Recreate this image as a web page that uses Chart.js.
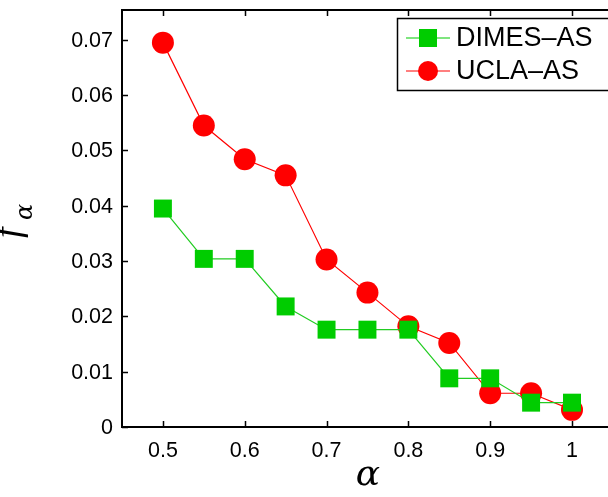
<!DOCTYPE html>
<html>
<head>
<meta charset="utf-8">
<script src="https://cdn.jsdelivr.net/npm/chart.js@4/dist/chart.umd.min.js"></script>
<style>
  html, body { margin: 0; padding: 0; background: #fff; overflow: hidden; }
  #wrap { width: 608px; height: 497px; position: relative; }
  canvas { display: block; }
</style>
</head>
<body>
<div id="wrap"><canvas id="c"></canvas></div>
<script>
const alphas = [0.5, 0.55, 0.6, 0.65, 0.7, 0.75, 0.8, 0.85, 0.9, 0.95, 1];
const dimesAS = [0.0395, 0.0304, 0.0304, 0.0218, 0.0176, 0.0176, 0.0176, 0.0088, 0.0088, 0.0044, 0.0044];
const uclaAS = [0.0695, 0.0545, 0.0484, 0.0455, 0.0303, 0.0243, 0.0182, 0.0152, 0.0061, 0.0061, 0.0031];
const xTicks = [0.5, 0.6, 0.7, 0.8, 0.9, 1];
const yTicks = [0, 0.01, 0.02, 0.03, 0.04, 0.05, 0.06, 0.07];
const tickFont = '21.5px "Liberation Sans", Arial, sans-serif';

// inward tick marks, tick labels, frame, axis titles and boxed legend
const framePlugin = {
    id: 'frame',
    afterDraw(chart) {
        const ctx = chart.ctx;
        const a = chart.chartArea;
        const xs = chart.scales.x, ys = chart.scales.y;
        ctx.save();
        ctx.strokeStyle = '#000';
        ctx.lineWidth = 2;
        ctx.beginPath();
        ctx.moveTo(a.right, a.top);
        ctx.lineTo(a.left, a.top);
        ctx.lineTo(a.left, a.bottom);
        ctx.lineTo(a.right, a.bottom);
        ctx.stroke();
        ctx.lineWidth = 1.5;
        ctx.beginPath();
        xTicks.forEach(v => {
            const px = Math.round(xs.getPixelForValue(v)) + 0.5;
            ctx.moveTo(px, a.bottom); ctx.lineTo(px, a.bottom - 6);
            ctx.moveTo(px, a.top); ctx.lineTo(px, a.top + 6);
        });
        yTicks.forEach(v => {
            const py = Math.round(ys.getPixelForValue(v)) + 0.5;
            ctx.moveTo(a.left, py); ctx.lineTo(a.left + 6, py);
        });
        ctx.stroke();

        // tick labels
        ctx.fillStyle = '#000';
        ctx.font = tickFont;
        ctx.textBaseline = 'middle';
        ctx.textAlign = 'center';
        xTicks.forEach(v => ctx.fillText(String(v), xs.getPixelForValue(v), a.bottom + 24));
        ctx.textAlign = 'right';
        yTicks.forEach(v => ctx.fillText(String(v), a.left - 9, ys.getPixelForValue(v) + 1));

        // axis titles
        ctx.font = 'italic 36px "DejaVu Serif", "Liberation Serif", serif';
        ctx.textAlign = 'center';
        ctx.textBaseline = 'alphabetic';
        ctx.fillText('α', 368, 485);

        ctx.translate(20, 228);
        ctx.rotate(-Math.PI / 2);
        ctx.font = 'italic 38px "Liberation Serif", "DejaVu Serif", serif';
        ctx.textAlign = 'left';
        ctx.fillText('f', -10, 0);
        ctx.font = 'italic 24px "DejaVu Serif", "Liberation Serif", serif';
        ctx.fillText('α', 8, 12);
        ctx.setTransform(1, 0, 0, 1, 0, 0);

        // legend
        const lx = 397, ly = 18, lw = 212, lh = 72;
        ctx.fillStyle = '#fff';
        ctx.fillRect(lx, ly, lw, lh);
        ctx.strokeStyle = '#000';
        ctx.lineWidth = 1.5;
        ctx.strokeRect(lx + 0.5, ly + 0.5, lw, lh);
        const rows = [
            { label: 'DIMES\u2013AS', color: '#00cc00', shape: 'sq', y: 38 },
            { label: 'UCLA\u2013AS', color: '#ff0000', shape: 'ci', y: 71 }
        ];
        rows.forEach(r => {
            ctx.strokeStyle = r.color;
            ctx.lineWidth = 1.2;
            ctx.beginPath();
            ctx.moveTo(406, r.y); ctx.lineTo(450, r.y);
            ctx.stroke();
            ctx.fillStyle = r.color;
            if (r.shape === 'sq') {
                ctx.fillRect(419, r.y - 9, 18, 18);
            } else {
                ctx.beginPath();
                ctx.arc(428, r.y, 10, 0, Math.PI * 2);
                ctx.fill();
            }
            ctx.fillStyle = '#000';
            ctx.font = '27px "Liberation Sans", Arial, sans-serif';
            ctx.textAlign = 'left';
            ctx.textBaseline = 'middle';
            ctx.fillText(r.label, 456, r.y + 1);
        });
        ctx.restore();
    }
};

new Chart(document.getElementById('c'), {
    type: 'line',
    data: {
        datasets: [
            {
                label: 'DIMES-AS',
                data: alphas.map((a, i) => ({ x: a, y: dimesAS[i] })),
                borderColor: '#22cc22',
                backgroundColor: '#00cc00',
                borderWidth: 1.2,
                pointStyle: 'rect',
                pointRadius: 12.7,
                pointBorderWidth: 0,
                tension: 0
            },
            {
                label: 'UCLA-AS',
                data: alphas.map((a, i) => ({ x: a, y: uclaAS[i] })),
                borderColor: '#ff0000',
                backgroundColor: '#ff0000',
                borderWidth: 1.2,
                pointStyle: 'circle',
                pointRadius: 11,
                pointBorderWidth: 0,
                tension: 0
            }
        ]
    },
    options: {
        responsive: true,
        maintainAspectRatio: false,
        animation: false,
        clip: false,
        layout: { autoPadding: false, padding: { top: 10, right: 0, left: 0, bottom: 0 } },
        plugins: {
            legend: { display: false },
            tooltip: { enabled: false }
        },
        scales: {
            x: {
                type: 'linear',
                min: 0.45,
                max: 1.044,
                grid: { display: false, drawTicks: false },
                border: { display: false },
                afterBuildTicks: scale => { scale.ticks = xTicks.map(v => ({ value: v })); },
                afterFit: scale => { scale.height = 70; },
                ticks: { display: false }
            },
            y: {
                min: 0,
                max: 0.0754,
                grid: { display: false, drawTicks: false },
                border: { display: false },
                afterBuildTicks: scale => { scale.ticks = yTicks.map(v => ({ value: v })); },
                afterFit: scale => { scale.width = 122; },
                ticks: { display: false }
            }
        }
    },
    plugins: [framePlugin]
});
</script>
</body>
</html>
